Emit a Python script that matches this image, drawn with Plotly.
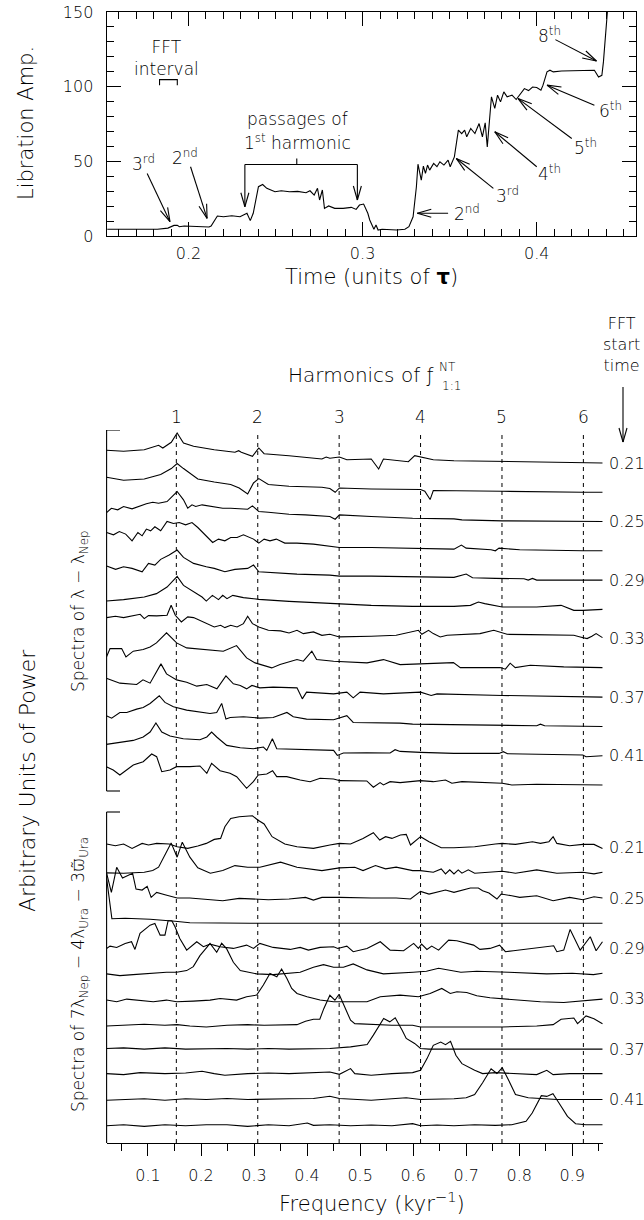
import math
import plotly.graph_objects as go

W, H = 644, 1220
FONT = "DejaVu Sans"

# ---------------- top panel: libration amplitude vs time ----------------
time_tau = [0.1534, 0.1822, 0.1882, 0.1917, 0.1936, 0.1948, 0.1976, 0.2012, 0.2059, 0.2118,
            0.213, 0.2166, 0.2201, 0.2249, 0.2296, 0.232, 0.2336, 0.2355, 0.2372, 0.2402,
            0.2426, 0.245, 0.2473, 0.2497, 0.2533, 0.258, 0.2627, 0.2675, 0.2698, 0.2722,
            0.2741, 0.2753, 0.2769, 0.2781, 0.2805, 0.284, 0.2888, 0.2935, 0.2963, 0.2982,
            0.3006, 0.303, 0.3041, 0.3065, 0.3077, 0.3089, 0.3112, 0.3195, 0.3243, 0.3266,
            0.329, 0.3309, 0.3318, 0.3337, 0.3349, 0.3361, 0.3373, 0.3385, 0.3408, 0.3427,
            0.3444, 0.3467, 0.3491, 0.3503, 0.3527, 0.355, 0.3569, 0.3586, 0.3598, 0.3621,
            0.3645, 0.3669, 0.3688, 0.3704, 0.3716, 0.374, 0.3759, 0.3775, 0.3792, 0.3811,
            0.383, 0.3858, 0.3882, 0.3905, 0.3929, 0.3953, 0.3976, 0.4, 0.4024, 0.4036,
            0.4059, 0.4076, 0.4095, 0.4142, 0.4237, 0.4331, 0.4355, 0.4374, 0.4383, 0.4397,
            0.4407]
lib_amp = [4.5, 4.5, 5.3, 7.1, 7.1, 6.2, 6.7, 6.5, 6.0, 6.0,
           6.7, 13.4, 12.9, 13.6, 12.9, 14.0, 15.2, 10.3, 15.2, 33.0,
           34.5, 31.9, 30.8, 29.6, 30.3, 29.6, 29.9, 29.0, 30.3, 27.4,
           31.9, 24.1, 30.8, 18.5, 20.1, 18.5, 18.5, 19.2, 17.8, 20.7,
           21.4, 15.2, 10.7, 4.5, 7.4, 4.0, 4.5, 4.0, 4.5, 6.2,
           12.9, 33.0, 48.1, 37.4, 46.8, 41.9, 47.5, 44.1, 48.6, 46.4,
           49.7, 47.5, 50.8, 46.4, 53.0, 70.9, 68.6, 70.9, 66.4, 72.0,
           68.6, 75.3, 66.4, 75.8, 59.7, 93.2, 85.4, 94.3, 89.8, 96.5,
           93.2, 94.3, 91.4, 95.4, 98.7, 97.4, 99.8, 99.4, 97.6, 101.0,
           109.9, 111.0, 109.9, 110.5, 111.0, 111.0, 106.5, 107.6, 116.6, 135.5,
           152.0]

# arrow labels: (text, text_t, text_amp, tail_t, tail_amp, tip_t, tip_amp)
left_arrows = [
    ("3<sup>rd</sup>", 0.174, 48.6, 0.1763, 41.9, 0.1894, 9.6),
    ("2<sup>nd</sup>", 0.198, 53.0, 0.2012, 46.4, 0.2107, 11.8),
]
right_arrows = [
    ("2<sup>nd</sup>", 0.3602, 15.2, 0.3491, 15.2, 0.3314, 15.2),
    ("3<sup>rd</sup>", 0.3830, 27.4, 0.3751, 31.9, 0.3538, 51.9),
    ("4<sup>th</sup>", 0.4076, 41.9, 0.4000, 46.4, 0.3759, 69.8),
    ("5<sup>th</sup>", 0.4280, 59.7, 0.4201, 65.3, 0.3893, 92.0),
    ("6<sup>th</sup>", 0.4421, 84.7, 0.4331, 87.6, 0.4059, 101.0),
    ("8<sup>th</sup>", 0.4076, 134.4, 0.4107, 131.5, 0.4343, 117.2),
]
fft_interval = [0.1834, 0.1936]
passages_t = [0.2324, 0.2970]
passages_tips = [19.6, 24.1]

# ---------------- bottom panel: spectra ----------------
fft_start = [0.21, 0.23, 0.25, 0.27, 0.29, 0.31, 0.33, 0.35, 0.37, 0.39, 0.41, 0.43]
f_harm = 0.1535
harmonic_numbers = [1, 2, 3, 4, 5, 6]
freq_ticks = [0.1, 0.2, 0.3, 0.4, 0.5, 0.6, 0.7, 0.8, 0.9]

# spectra of lambda - lambda_Nep : (frequency kyr^-1, power above trace baseline)
lam_021 = [(0.022, 12.7), (0.054, 11.7), (0.093, 13.3), (0.120, 17.7), (0.128, 15.0), (0.144, 20.7),
           (0.155, 30.0), (0.167, 20.0), (0.186, 16.7), (0.225, 13.3), (0.264, 10.7), (0.271, 12.3),
           (0.276, 10.7), (0.297, 6.7), (0.309, 15.0), (0.319, 9.3), (0.366, 7.3), (0.420, 5.0),
           (0.428, 4.0), (0.436, 6.0), (0.443, 4.7), (0.461, 6.0), (0.475, 3.3), (0.521, 4.0),
           (0.535, -6.0), (0.544, 4.0), (0.591, 1.3), (0.603, 7.3), (0.614, 6.0), (0.638, 3.3),
           (0.677, 2.3), (0.768, 1.7), (0.833, 1.0), (0.920, 0.0), (0.957, 0.0)]
lam_023 = [(0.022, 15.0), (0.054, 12.0), (0.093, 13.3), (0.124, 17.7), (0.144, 23.7), (0.155, 28.7),
           (0.167, 23.7), (0.194, 13.3), (0.225, 10.3), (0.256, 7.7), (0.272, 4.3), (0.288, -1.7),
           (0.299, 9.3), (0.309, 13.7), (0.327, 7.7), (0.366, 6.0), (0.428, 5.0), (0.443, 3.7),
           (0.453, 0.0), (0.461, 4.3), (0.521, 3.3), (0.614, 2.7), (0.622, 1.0), (0.632, -7.3),
           (0.638, 1.7), (0.677, 1.7), (0.768, 1.0), (0.920, 0.0), (0.957, 0.0)]
lam_025 = [(0.022, 9.0), (0.031, 13.3), (0.043, 11.7), (0.054, 15.0), (0.070, 12.7), (0.085, 15.7),
           (0.097, 17.7), (0.109, 19.3), (0.120, 18.3), (0.136, 20.0), (0.155, 30.0), (0.167, 21.7),
           (0.175, 13.3), (0.183, 16.7), (0.190, 15.0), (0.202, 16.7), (0.218, 15.0), (0.241, 13.3),
           (0.256, 13.3), (0.272, 12.7), (0.288, 12.3), (0.297, 15.7), (0.309, 10.0), (0.327, 9.3),
           (0.342, 8.3), (0.366, 7.3), (0.397, 6.7), (0.428, 5.7), (0.443, 5.0), (0.453, 2.3),
           (0.461, 6.7), (0.521, 5.0), (0.599, 3.3), (0.677, 2.7), (0.692, 1.7), (0.768, 0.7),
           (0.920, 0.0), (0.957, 0.0)]
lam_027 = [(0.022, 18.3), (0.035, 16.0), (0.046, 19.3), (0.058, 16.7), (0.070, 10.0), (0.081, 18.3),
           (0.089, 15.0), (0.097, 21.7), (0.105, 20.0), (0.113, 24.0), (0.124, 20.0), (0.136, 29.3),
           (0.148, 27.3), (0.159, 28.3), (0.171, 26.0), (0.183, 28.3), (0.194, 23.3), (0.206, 16.7),
           (0.222, 8.3), (0.233, 11.7), (0.245, 10.0), (0.256, 13.3), (0.268, 13.3), (0.280, 16.0),
           (0.291, 13.3), (0.299, 11.7), (0.309, 7.7), (0.319, 11.7), (0.330, 10.0), (0.342, 11.7),
           (0.358, 7.7), (0.381, 7.7), (0.412, 6.7), (0.443, 5.0), (0.461, 3.3), (0.521, 3.3),
           (0.599, 2.7), (0.677, 1.7), (0.691, 5.7), (0.700, 2.7), (0.747, 1.0), (0.755, 0.0),
           (0.762, 2.7), (0.801, 1.0), (0.920, 0.0), (0.957, 0.0)]
lam_029 = [(0.022, 14.0), (0.039, 10.7), (0.054, 13.3), (0.070, 11.7), (0.089, 8.3), (0.101, 16.7),
           (0.113, 15.0), (0.124, 20.7), (0.140, 25.0), (0.155, 30.0), (0.167, 22.7), (0.186, 16.7),
           (0.210, 13.3), (0.225, 11.7), (0.245, 8.3), (0.264, 10.7), (0.288, 11.7), (0.299, 15.0),
           (0.309, 8.3), (0.334, 7.3), (0.381, 6.0), (0.443, 5.0), (0.461, 4.0), (0.521, 4.0),
           (0.599, 3.3), (0.677, 2.7), (0.700, 6.0), (0.712, 2.3), (0.755, 1.7), (0.809, 1.3),
           (0.817, 0.0), (0.825, 1.7), (0.833, 0.0), (0.920, 0.0), (0.957, 0.0)]
lam_031 = [(0.022, 8.3), (0.054, 9.7), (0.093, 12.3), (0.116, 15.7), (0.136, 22.3), (0.155, 33.0),
           (0.167, 24.0), (0.186, 17.3), (0.202, 12.3), (0.210, 8.3), (0.2215, 14.0), (0.233, 9.7),
           (0.241, 14.0), (0.249, 10.7), (0.260, 14.0), (0.280, 11.7), (0.309, 10.0), (0.366, 8.0),
           (0.443, 5.7), (0.521, 4.0), (0.599, 3.0), (0.677, 3.0), (0.708, 4.0), (0.723, 7.3),
           (0.735, 5.7), (0.768, 2.3), (0.833, 2.3), (0.864, 3.3), (0.879, 4.0), (0.903, -1.0),
           (0.920, -1.0), (0.957, 0.0)]
lam_033 = [(0.022, 21.0), (0.0386, 22.3), (0.054, 21.0), (0.070, 22.3), (0.0853, 24.3), (0.093, 20.0),
           (0.101, 23.0), (0.1164, 22.7), (0.128, 23.3), (0.136, 23.3), (0.1437, 33.3), (0.1515, 23.3),
           (0.163, 16.7), (0.175, 21.7), (0.186, 21.0), (0.210, 15.7), (0.225, 11.7), (0.237, 13.3),
           (0.245, 11.0), (0.256, 13.3), (0.268, 11.7), (0.280, 15.0), (0.288, 22.3), (0.297, 15.0),
           (0.309, 11.7), (0.327, 8.3), (0.350, 7.7), (0.366, 5.7), (0.381, 8.3), (0.393, 5.0),
           (0.412, 6.7), (0.428, 3.3), (0.443, 4.3), (0.461, 1.7), (0.482, 1.7), (0.521, 2.3),
           (0.568, 3.3), (0.6006, 7.3), (0.610, 8.3), (0.6164, 4.3), (0.629, 8.3), (0.638, 5.0),
           (0.651, 1.7), (0.664, 3.3), (0.726, 5.0), (0.752, 8.3), (0.764, 6.7), (0.777, 4.3),
           (0.821, 4.0), (0.903, 3.3), (0.915, 1.7), (0.928, 0.0), (0.937, 2.3), (0.945, 5.0),
           (0.957, 1.0)]
lam_035 = [(0.0215, 10.7), (0.0285, 19.3), (0.0504, 19.3), (0.0585, 11.0), (0.0723, 16.7), (0.091, 18.3),
           (0.104, 21.0), (0.116, 25.0), (0.135, 35.0), (0.154, 25.0), (0.173, 20.0), (0.198, 19.0),
           (0.223, 17.7), (0.242, 16.7), (0.267, 22.3), (0.286, 10.0), (0.302, 5.0), (0.3334, 0.0),
           (0.349, 3.3), (0.368, 6.7), (0.381, 8.3), (0.393, 6.7), (0.409, 16.7), (0.418, 8.3),
           (0.450, 6.7), (0.513, 5.0), (0.544, 8.3), (0.5755, 3.3), (0.6006, 3.7), (0.676, 5.3),
           (0.689, 0.3), (0.764, 0.3), (0.774, -1.3), (0.783, 4.7), (0.7925, 0.3), (0.821, 2.7),
           (0.884, 1.0), (0.957, 0.3)]
lam_037 = [(0.0215, 19.0), (0.047, 14.0), (0.0787, 12.7), (0.0906, 17.3), (0.104, 14.0), (0.1245, 33.3),
           (0.135, 23.3), (0.154, 17.3), (0.173, 15.0), (0.192, 11.0), (0.211, 12.7), (0.230, 8.3),
           (0.247, 21.3), (0.261, 13.3), (0.274, 11.7), (0.286, 8.3), (0.296, 11.7), (0.311, 9.3),
           (0.336, 10.0), (0.381, 9.3), (0.391, -1.7), (0.399, 5.0), (0.450, 3.3), (0.475, 5.0),
           (0.487, -0.7), (0.500, 5.0), (0.544, 3.3), (0.575, 4.0), (0.614, 5.0), (0.634, 1.7),
           (0.645, 3.3), (0.768, 1.7), (0.920, 0.0), (0.957, 0.0)]
lam_039 = [(0.0215, 10.7), (0.0315, 8.3), (0.047, 14.0), (0.060, 14.0), (0.0787, 17.3), (0.091, 19.0),
           (0.104, 23.0), (0.1213, 30.7), (0.132, 24.0), (0.148, 19.7), (0.173, 16.3), (0.198, 14.7),
           (0.217, 13.0), (0.2296, 14.0), (0.239, 23.0), (0.247, 7.3), (0.255, 9.0), (0.280, 9.7),
           (0.311, 8.3), (0.336, 9.0), (0.362, 14.0), (0.374, 9.7), (0.399, 7.3), (0.450, 6.7),
           (0.475, 10.7), (0.487, 4.0), (0.513, 4.0), (0.575, 3.3), (0.599, 2.3), (0.677, 1.7),
           (0.833, 0.7), (0.840, 2.3), (0.848, 0.7), (0.957, 0.0)]
lam_041 = [(0.0215, 11.3), (0.0723, 15.3), (0.091, 18.7), (0.104, 23.7), (0.115, 32.7), (0.126, 23.7),
           (0.1415, 19.7), (0.1666, 17.0), (0.198, 16.0), (0.211, 18.7), (0.220, 23.7), (0.2296, 18.7),
           (0.2485, 10.3), (0.274, 8.0), (0.2987, 7.0), (0.306, 7.7), (0.3176, 8.7), (0.324, 5.3),
           (0.3346, 17.0), (0.3428, 7.0), (0.387, 6.3), (0.450, 5.3), (0.457, 0.3), (0.4685, 2.7),
           (0.5126, 3.0), (0.5566, 2.7), (0.566, 6.0), (0.5755, 4.3), (0.614, 3.3), (0.677, 2.3),
           (0.762, 2.3), (0.770, 4.0), (0.778, 2.0), (0.920, 0.7), (0.926, -1.0), (0.957, 0.0)]
lam_043 = [(0.0215, 18.3), (0.0345, 15.0), (0.047, 10.0), (0.0723, 20.0), (0.091, 23.3), (0.107, 31.0),
           (0.1164, 28.3), (0.126, 13.3), (0.1415, 15.0), (0.154, 18.3), (0.179, 18.3), (0.198, 19.0),
           (0.211, 11.7), (0.220, 21.7), (0.236, 14.3), (0.2547, 11.7), (0.2673, 8.3), (0.286, -3.3),
           (0.2987, 3.3), (0.308, 10.0), (0.324, 11.0), (0.335, 14.3), (0.3428, 8.3), (0.3617, 8.3),
           (0.387, 5.0), (0.4057, 3.3), (0.4245, 6.7), (0.450, 6.0), (0.462, 4.3), (0.5126, 4.0),
           (0.525, -2.3), (0.5377, 2.3), (0.544, 0.0), (0.5566, 3.3), (0.5755, 2.3), (0.614, 4.3),
           (0.638, 3.3), (0.661, 5.0), (0.673, 1.7), (0.692, 3.3), (0.768, 1.7), (0.786, 0.0),
           (0.833, 0.7), (0.920, 0.0), (0.957, 0.0)]

# spectra of 7 lambda_Nep - 4 lambda_Ura - 3 varpi_Ura
res_021 = [(0.022, 3.7), (0.0386, 2.0), (0.054, 3.7), (0.070, -0.7), (0.089, 4.3), (0.101, 2.7),
           (0.1164, 4.3), (0.140, 3.7), (0.155, 1.0), (0.175, -0.7), (0.194, 1.7), (0.210, 4.3),
           (0.225, 8.3), (0.237, 9.3), (0.245, 21.0), (0.256, 29.3), (0.272, 31.0), (0.297, 32.0),
           (0.307, 27.7), (0.319, 23.7), (0.334, 11.0), (0.358, 3.7), (0.381, 1.0), (0.412, -0.7),
           (0.443, 2.7), (0.461, 4.3), (0.482, 3.7), (0.5055, 9.3), (0.525, 15.0), (0.537, 7.7),
           (0.548, 11.0), (0.560, 9.3), (0.576, 12.7), (0.587, 13.3), (0.595, 2.7), (0.603, 6.0),
           (0.614, 11.0), (0.630, 6.0), (0.653, 0.0), (0.677, 0.0), (0.716, 1.0), (0.755, 3.7),
           (0.768, 4.3), (0.793, 3.3), (0.825, 6.0), (0.840, 4.3), (0.856, 6.0), (0.864, 11.0),
           (0.871, 4.3), (0.895, 2.0), (0.920, 3.3), (0.941, 3.3), (0.957, -0.7)]
res_023 = [(0.022, 0.0), (0.054, -0.3), (0.093, 0.7), (0.109, 2.3), (0.120, 5.7), (0.132, 17.3),
           (0.1437, 30.0), (0.155, 15.7), (0.1647, 30.7), (0.179, 15.7), (0.194, 5.0), (0.2176, -0.3),
           (0.241, 2.3), (0.264, 7.3), (0.288, 5.7), (0.311, 5.7), (0.334, 9.0), (0.350, 10.7),
           (0.381, 5.7), (0.428, 2.3), (0.461, 5.0), (0.490, 5.7), (0.5055, 2.3), (0.529, 7.3),
           (0.548, 4.0), (0.568, 5.7), (0.599, 2.3), (0.614, 2.3), (0.638, 0.7), (0.653, 4.0),
           (0.661, -1.0), (0.669, 3.0), (0.677, -1.0), (0.685, 3.0), (0.692, -0.3), (0.704, 3.0),
           (0.716, -0.3), (0.755, 0.7), (0.768, 1.7), (0.793, -0.3), (0.833, 3.0), (0.871, -0.3),
           (0.920, 0.7), (0.941, -1.0), (0.957, 0.7)]
res_025 = [(0.022, 25.0), (0.031, 5.7), (0.041, 30.7), (0.052, 20.0), (0.071, 24.7), (0.0775, 9.0),
           (0.089, 8.0), (0.0985, 11.7), (0.106, 0.7), (0.1164, 5.7), (0.132, 3.3), (0.155, 0.0),
           (0.179, 0.0), (0.210, -1.0), (0.241, -2.7), (0.272, -0.3), (0.303, -1.0), (0.327, -1.7),
           (0.366, -1.0), (0.397, 0.7), (0.412, -2.0), (0.428, 0.7), (0.461, 0.7), (0.490, 0.0),
           (0.521, 0.0), (0.568, 0.0), (0.595, -1.0), (0.614, 6.7), (0.630, 4.0), (0.661, 8.0),
           (0.677, 5.7), (0.708, 10.0), (0.723, 10.0), (0.731, 7.3), (0.743, 5.0), (0.758, -1.0),
           (0.766, 4.0), (0.786, 2.3), (0.801, 0.7), (0.833, 2.3), (0.864, -2.7), (0.895, 0.7),
           (0.920, -1.7), (0.941, 1.3), (0.957, 0.0)]
res_027 = [(0.022, 45.0), (0.032, 4.5), (0.057, 5.0), (0.104, 4.0), (0.151, 2.0), (0.179, 0.5),
           (0.292, 0.0), (0.481, 0.0), (0.670, 0.3), (0.764, 0.0), (0.957, 0.0)]
res_029 = [(0.022, 0.0), (0.0285, 2.3), (0.041, 1.0), (0.057, 5.0), (0.069, 6.7), (0.0755, -1.0),
           (0.085, 15.0), (0.104, 23.3), (0.113, 25.0), (0.123, 13.3), (0.132, 13.3), (0.138, 27.7),
           (0.145, 27.7), (0.151, 21.7), (0.160, 10.0), (0.173, -1.7), (0.192, 6.7), (0.2045, 1.7),
           (0.217, 4.3), (0.236, 1.7), (0.261, 0.0), (0.286, 3.3), (0.299, 0.0), (0.311, 5.0),
           (0.336, 1.0), (0.352, 0.0), (0.368, -1.0), (0.387, 1.0), (0.4025, -1.7), (0.4245, 1.0),
           (0.450, 1.7), (0.458, 0.0), (0.475, 2.3), (0.487, -3.3), (0.513, 0.0), (0.538, 6.7),
           (0.5566, -1.7), (0.582, -2.3), (0.601, 5.0), (0.610, 0.0), (0.616, 4.3), (0.626, -1.0),
           (0.635, 2.3), (0.648, -1.7), (0.667, 8.3), (0.6825, 7.7), (0.701, 5.0), (0.714, 3.3),
           (0.726, -1.0), (0.745, 0.0), (0.763, 3.3), (0.774, -3.3), (0.789, -2.3), (0.821, 0.0),
           (0.840, 1.0), (0.865, 2.7), (0.871, -3.3), (0.884, -1.7), (0.896, 19.0), (0.915, -1.7),
           (0.934, 11.7), (0.945, -2.3), (0.957, 6.7)]
res_031 = [(0.022, -0.3), (0.047, -2.0), (0.072, -1.0), (0.104, 0.3), (0.135, 1.3), (0.154, 1.3),
           (0.173, 3.0), (0.1855, 7.0), (0.198, 18.0), (0.211, 26.3), (0.217, 30.3), (0.2296, 21.3),
           (0.239, 30.3), (0.2485, 24.7), (0.261, 11.3), (0.274, 3.0), (0.305, -0.3), (0.336, -1.0),
           (0.362, 0.3), (0.387, 1.3), (0.412, 6.3), (0.431, 9.0), (0.450, 6.3), (0.4685, 6.3),
           (0.487, 9.7), (0.513, 3.7), (0.544, -0.3), (0.5755, 0.3), (0.600, 1.3), (0.625, 2.3),
           (0.648, 5.3), (0.690, 1.3), (0.720, 2.3), (0.780, 1.3), (0.830, 0.7), (0.852, -0.3),
           (0.900, 0.3), (0.940, -1.0), (0.957, 0.3)]
res_033 = [(0.022, -1.3), (0.041, -3.0), (0.060, -0.3), (0.085, -1.3), (0.110, -3.0), (0.135, -1.3),
           (0.154, -3.0), (0.1855, -2.3), (0.217, -1.3), (0.236, 0.3), (0.267, -1.3), (0.286, 2.0),
           (0.305, 3.7), (0.3176, 13.7), (0.330, 25.3), (0.343, 22.0), (0.352, 29.7), (0.362, 20.3),
           (0.371, 10.3), (0.381, 5.3), (0.400, 2.0), (0.4245, -1.3), (0.450, -3.0), (0.513, -3.0),
           (0.538, 2.0), (0.5755, 3.7), (0.610, 2.0), (0.632, 5.3), (0.654, 10.3), (0.670, 5.3),
           (0.6825, 7.0), (0.701, 6.3), (0.720, 3.0), (0.745, 1.0), (0.802, -1.3), (0.840, -3.0),
           (0.884, -3.7), (0.915, -2.3), (0.940, -1.3), (0.957, -0.3)]
res_035 = [(0.022, -2.0), (0.054, -1.3), (0.093, -0.3), (0.132, -1.3), (0.155, -0.7), (0.179, -2.0),
           (0.210, -3.0), (0.249, -1.3), (0.288, -0.7), (0.319, -1.3), (0.358, -1.3), (0.381, -0.7),
           (0.397, 2.7), (0.412, 4.7), (0.424, 4.7), (0.4315, 15.3), (0.443, 28.7), (0.4525, 23.7),
           (0.4604, 29.7), (0.4705, 17.0), (0.482, 3.7), (0.490, 0.3), (0.521, -0.7), (0.560, -1.3),
           (0.599, -1.3), (0.614, -3.0), (0.677, -3.0), (0.768, -3.0), (0.833, -2.0), (0.864, -0.7),
           (0.879, 4.7), (0.903, 6.0), (0.910, 0.3), (0.926, 8.0), (0.941, 5.3), (0.957, 0.3)]
res_037 = [(0.022, 0.7), (0.054, 1.3), (0.093, 0.0), (0.132, 1.3), (0.171, 0.0), (0.210, 0.7),
           (0.249, 0.7), (0.288, 0.0), (0.327, 0.7), (0.366, 0.0), (0.412, 0.7), (0.443, 0.7),
           (0.482, 2.3), (0.5133, 4.7), (0.525, 14.0), (0.5444, 30.7), (0.556, 27.3), (0.5662, 31.3),
           (0.5793, 19.0), (0.587, 10.7), (0.6028, 5.7), (0.614, 0.7), (0.630, 0.0), (0.677, 0.0),
           (0.957, 0.0)]
res_039 = [(0.022, 0.7), (0.054, -0.3), (0.0853, 1.7), (0.132, 0.7), (0.171, 1.3), (0.202, 3.0),
           (0.225, 0.7), (0.245, -1.0), (0.288, 0.7), (0.327, 1.3), (0.366, 0.7), (0.412, 1.7),
           (0.443, 2.3), (0.461, 0.0), (0.482, 5.7), (0.490, 0.7), (0.521, -1.0), (0.560, 0.7),
           (0.599, 1.7), (0.614, 4.0), (0.6262, 15.7), (0.638, 29.0), (0.652, 32.3), (0.661, 29.7),
           (0.6705, 33.0), (0.6806, 19.0), (0.692, 10.7), (0.716, 4.0), (0.731, 0.7), (0.755, 1.7),
           (0.793, 0.7), (0.833, -0.3), (0.852, 4.0), (0.864, -0.3), (0.895, 0.7), (0.957, 0.7)]
res_041 = [(0.022, -0.7), (0.054, 0.0), (0.093, 0.7), (0.132, -0.7), (0.171, 0.7), (0.210, 0.0),
           (0.249, 1.0), (0.288, 0.0), (0.327, 0.0), (0.366, 0.7), (0.412, 1.0), (0.443, 3.3),
           (0.461, 1.0), (0.490, 0.0), (0.521, -0.7), (0.560, 0.7), (0.587, 1.7), (0.614, 0.0),
           (0.645, 0.0), (0.677, 0.7), (0.700, 1.7), (0.716, 5.0), (0.731, 16.7), (0.747, 30.7),
           (0.758, 26.0), (0.768, 31.7), (0.7794, 20.0), (0.793, 5.0), (0.817, 1.7), (0.833, 1.0),
           (0.871, 0.0), (0.957, 0.0)]
res_043 = [(0.022, -1.0), (0.054, 0.0), (0.093, -1.7), (0.132, 0.0), (0.171, -1.0), (0.210, 0.0),
           (0.249, 0.0), (0.288, -1.7), (0.327, 0.0), (0.366, -1.0), (0.4005, 1.7), (0.412, -0.7),
           (0.443, 0.0), (0.482, -1.0), (0.521, -0.3), (0.560, -1.0), (0.599, 1.0), (0.614, -1.0),
           (0.645, -0.3), (0.677, -1.0), (0.716, 0.0), (0.755, -0.7), (0.786, 0.0), (0.8129, 3.3),
           (0.8245, 11.7), (0.8417, 29.0), (0.852, 28.3), (0.8636, 31.0), (0.875, 21.7), (0.891, 8.3),
           (0.9063, 1.0), (0.9257, 0.0), (0.957, 0.0)]

lam_spectra = [lam_021, lam_023, lam_025, lam_027, lam_029, lam_031,
               lam_033, lam_035, lam_037, lam_039, lam_041, lam_043]
res_spectra = [res_021, res_023, res_025, res_027, res_029, res_031,
               res_033, res_035, res_037, res_039, res_041, res_043]

# ---------------- layout geometry (pixels of the 644x1220 page) ----------------
def px_x(px):
    return px / W


def px_y(py):
    return 1 - py / H


def F(size):
    return dict(family=FONT, size=size, color="black", weight=300)


TOP_L, TOP_R, TOP_T, TOP_B = 106.6, 636.0, 12.0, 236.0
T_RANGE, A_RANGE = (0.153, 0.457), (0.0, 150.0)
BOT_L, BOT_R, BOT_T, BOT_B = 106.6, 603.0, 430.0, 1143.0
YSPAN = BOT_B - BOT_T            # bottom panel offset axis in page-pixel units
G1_TOP, G1_STEP = BOT_B - 463.0, 29.27
G2_TOP, G2_STEP = BOT_B - 847.7, 25.18
G1_BRACKET = (BOT_B - 791.0, YSPAN)
G2_BRACKET = (0.0, BOT_B - 812.0)
HARM_TOP = BOT_B - 435.0
HEAD_L, HEAD_W = 14.0, 4.0

LINE = dict(color="black", width=1.1)
SHAPE_LINE = dict(color="black", width=1.1)
fig = go.Figure()

fig.add_trace(go.Scatter(x=time_tau, y=lib_amp, mode="lines", line=LINE,
                         xaxis="x", yaxis="y", showlegend=False, hoverinfo="skip"))

for k, spec in enumerate(lam_spectra):
    base = G1_TOP - k * G1_STEP
    fig.add_trace(go.Scatter(x=[p[0] for p in spec], y=[base + p[1] for p in spec],
                             mode="lines", line=LINE, xaxis="x2", yaxis="y2",
                             showlegend=False, hoverinfo="skip"))
for k, spec in enumerate(res_spectra):
    base = G2_TOP - k * G2_STEP
    fig.add_trace(go.Scatter(x=[p[0] for p in spec], y=[base + p[1] for p in spec],
                             mode="lines", line=LINE, xaxis="x2", yaxis="y2",
                             showlegend=False, hoverinfo="skip"))

shapes = []
ann = []
TXT = F(17)


def top_to_px(t, a):
    X = TOP_L + (t - T_RANGE[0]) / (T_RANGE[1] - T_RANGE[0]) * (TOP_R - TOP_L)
    Y = TOP_B - (a - A_RANGE[0]) / (A_RANGE[1] - A_RANGE[0]) * (TOP_B - TOP_T)
    return X, Y


def top_from_px(X, Y):
    t = T_RANGE[0] + (X - TOP_L) / (TOP_R - TOP_L) * (T_RANGE[1] - T_RANGE[0])
    a = A_RANGE[0] + (TOP_B - Y) / (TOP_B - TOP_T) * (A_RANGE[1] - A_RANGE[0])
    return t, a


def open_arrow(tail_px, tip_px, to_ref, xref, yref):
    """Shaft plus two barbs (open V head), drawn in page pixels then mapped to refs."""
    (X0, Y0), (X1, Y1) = tail_px, tip_px
    L = math.hypot(X1 - X0, Y1 - Y0)
    ux, uy = (X1 - X0) / L, (Y1 - Y0) / L
    pts = [(X0, Y0)]
    for s in (1, -1):
        pts.append((X1 - HEAD_L * ux - s * HEAD_W * uy, Y1 - HEAD_L * uy + s * HEAD_W * ux))
    segs = [((X0, Y0), (X1, Y1)), (pts[1], (X1, Y1)), (pts[2], (X1, Y1))]
    for (a, b) in segs:
        xa, ya = to_ref(*a)
        xb, yb = to_ref(*b)
        shapes.append(dict(type="line", xref=xref, yref=yref, x0=xa, y0=ya, x1=xb, y1=yb,
                           line=SHAPE_LINE))


def top_arrow(tail, tip):
    open_arrow(top_to_px(*tail), top_to_px(*tip), top_from_px, "x", "y")


def centered(x, y, text, font, xref="paper", yref="paper", **kw):
    d = dict(x=x, y=y, xref=xref, yref=yref, text=text, showarrow=False, font=font,
             xanchor="center", yanchor="middle")
    d.update(kw)
    ann.append(d)


# top panel decorations
shapes.append(dict(type="path", xref="x", yref="y",
                   path=f"M{fft_interval[0]},101 L{fft_interval[0]},104.7 L{fft_interval[1]},104.7 L{fft_interval[1]},101",
                   line=SHAPE_LINE))
shapes.append(dict(type="line", xref="x", yref="y", x0=passages_t[0], x1=passages_t[1], y0=47.9, y1=47.9,
                   line=SHAPE_LINE))
shapes.append(dict(type="line", xref="x", yref="y", x0=0.2622, x1=0.2622, y0=47.9, y1=51.9,
                   line=SHAPE_LINE))
for t, tip in zip(passages_t, passages_tips):
    top_arrow((t, 47.9), (t, tip))
centered(0.1875, 119.5, "FFT<br>interval", TXT, "x", "y")
centered(0.2627, 78.5, "passages of", TXT, "x", "y")
centered(0.2627, 63.0, "1<sup>st</sup> harmonic", TXT, "x", "y")
for text, tt, ta, xt, yt, xh, yh in left_arrows + right_arrows:
    centered(tt, ta, text, TXT, "x", "y")
    top_arrow((xt, yt), (xh, yh))

centered(px_x(371), px_y(277), "Time (units of <b>τ</b>)", F(21))
centered(px_x(26), px_y(123), "Libration Amp.", F(21), textangle=-90)

# bottom panel decorations
for k in harmonic_numbers:
    shapes.append(dict(type="line", xref="x2", yref="y2", x0=k * f_harm, x1=k * f_harm, y0=0, y1=HARM_TOP,
                       line=dict(color="black", width=1, dash="4px,4px"), layer="below"))
    centered(k * f_harm, px_y(417), str(k), F(17), "x2", "paper")

for (y0, y1), ticks in ((G1_BRACKET, (G1_BRACKET[0], G1_BRACKET[1])), (G2_BRACKET, (G2_BRACKET[1],))):
    shapes.append(dict(type="line", xref="x2 domain", yref="y2", x0=0, x1=0, y0=y0, y1=y1, line=SHAPE_LINE))
    for yt in ticks:
        shapes.append(dict(type="line", xref="x2 domain", yref="y2", x0=0, x1=0.027, y0=yt, y1=yt,
                           line=SHAPE_LINE))

for k, t in enumerate(fft_start):
    if k % 2 == 0:
        for base in (G1_TOP - k * G1_STEP, G2_TOP - k * G2_STEP):
            ann.append(dict(x=px_x(607), y=base, xref="paper", yref="y2", text=f"{t:.2f}",
                            xanchor="left", yanchor="middle", showarrow=False, font=F(16)))

centered(px_x(621), px_y(344), "FFT<br>start<br>time", F(16))
open_arrow((623, 387), (623, 442), lambda X, Y: (px_x(X), px_y(Y)), "paper", "paper")

ann.append(dict(x=px_x(436), y=px_y(375), xref="paper", yref="paper", xanchor="right", yanchor="middle",
                text="Harmonics of ƒ", showarrow=False, font=F(20)))
ann.append(dict(x=px_x(437), y=px_y(367), xref="paper", yref="paper", xanchor="left", yanchor="middle",
                text="NT", showarrow=False, font=F(12)))
ann.append(dict(x=px_x(440), y=px_y(386), xref="paper", yref="paper", xanchor="left", yanchor="middle",
                text="1:1", showarrow=False, font=F(12)))

centered(px_x(372), px_y(1202), "Frequency (kyr<sup>−1</sup>)", F(21))
centered(px_x(27), px_y(781), "Arbitrary Units of Power", F(22), textangle=-90)
centered(px_x(79), px_y(611), "Spectra of λ − λ<sub>Nep</sub>", F(17), textangle=-90)
centered(px_x(79), px_y(975), "Spectra of 7λ<sub>Nep</sub> − 4λ<sub>Ura</sub> − 3ϖ\u0303<sub>Ura</sub>",
         F(17), textangle=-90)

axis_common = dict(showgrid=False, zeroline=False, linecolor="black", linewidth=1.1,
                   tickcolor="black", tickwidth=1, tickfont=F(16), automargin=False)

fig.update_layout(
    width=W, height=H, autosize=False,
    margin=dict(l=0, r=0, t=0, b=0),
    paper_bgcolor="white", plot_bgcolor="white",
    font=F(16),
    showlegend=False,
    xaxis=dict(domain=[px_x(TOP_L), px_x(TOP_R)], anchor="y", range=list(T_RANGE),
               tickvals=[0.2, 0.3, 0.4], ticktext=["0.2", "0.3", "0.4"],
               ticks="inside", ticklen=14, showline=True, mirror="allticks", ticklabelstandoff=3,
               minor=dict(dtick=0.01, tick0=0, ticklen=7, ticks="inside", tickcolor="black"),
               **axis_common),
    yaxis=dict(domain=[px_y(TOP_B), px_y(TOP_T)], anchor="x", range=list(A_RANGE),
               tickvals=[0, 50, 100, 150], ticks="inside", ticklen=14, showline=True, mirror="allticks",
               ticklabelstandoff=9,
               minor=dict(dtick=10, tick0=0, ticklen=7, ticks="inside", tickcolor="black"),
               **axis_common),
    xaxis2=dict(domain=[px_x(BOT_L), px_x(BOT_R)], anchor="y2", range=[0.022, 0.958],
                tickvals=freq_ticks, ticktext=[f"{v:.1f}" for v in freq_ticks],
                ticks="outside", ticklen=12, showline=True, mirror=False, ticklabelstandoff=6,
                minor=dict(dtick=0.05, tick0=0, ticklen=7, ticks="outside", tickcolor="black"),
                **axis_common),
    yaxis2=dict(domain=[px_y(BOT_B), px_y(BOT_T)], anchor="x2", range=[0, YSPAN], visible=False,
                automargin=False),
    shapes=shapes,
    annotations=ann,
)

fig.write_html("out.html")
